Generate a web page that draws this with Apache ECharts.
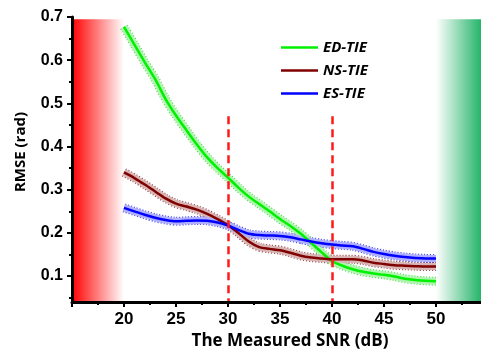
<!DOCTYPE html>
<html><head><meta charset="utf-8">
<script src="https://cdn.jsdelivr.net/npm/echarts@6/dist/echarts.min.js"></script>
<style>html,body{margin:0;padding:0;background:#fff}#c{width:481px;height:354px}</style>
</head><body><div id="c"></div>
<script>
const snr = [20,21,22,23,24,25,26,27,28,29,30,31,32,33,34,35,36,37,38,39,40,41,42,43,44,45,46,47,48,49,50];
const edTie = [0.677,0.636,0.595,0.556,0.510,0.472,0.438,0.405,0.375,0.350,0.328,0.305,0.284,0.267,0.250,0.232,0.216,0.198,0.177,0.155,0.135,0.124,0.116,0.110,0.106,0.103,0.099,0.094,0.091,0.089,0.088];
const nsTie = [0.340,0.327,0.312,0.296,0.280,0.268,0.261,0.254,0.244,0.232,0.218,0.200,0.180,0.167,0.163,0.160,0.154,0.147,0.143,0.141,0.139,0.139,0.139,0.136,0.131,0.128,0.125,0.124,0.123,0.122,0.122];
const esTie = [0.258,0.250,0.242,0.235,0.230,0.227,0.228,0.229,0.228,0.224,0.217,0.207,0.198,0.195,0.194,0.193,0.190,0.185,0.180,0.176,0.173,0.171,0.169,0.163,0.156,0.151,0.147,0.144,0.142,0.141,0.141];
const seriesNames = ['ED-TIE','NS-TIE','ES-TIE'];
const yTickValues = [0.1,0.2,0.3,0.4,0.5,0.6,0.7];
const yMinorValues = [0.05,0.15,0.25,0.35,0.45,0.55,0.65];
const xTickValues = [15,20,25,30,35,40,45,50];
const xMinorValues = [17.5,22.5,27.5,32.5,37.5,42.5,47.5,52.5];
const markedSnr = [30,40];
const markTop = 0.47;

const chart = echarts.init(document.getElementById('c'));
const pairs = v => snr.map((x,i)=>[x,v[i]]);
const styles = [
  {main:'#00f000', fill:'#aef5ae', edge:'#5ad85a'},
  {main:'#800000', fill:'#d8b4b4', edge:'#9a5050'},
  {main:'#0000ff', fill:'#b0b0ff', edge:'#5050ee'}
];
const valueSets = [edTie, nsTie, esTie];
const series = [];
series.push({
  type:'line', data:[], silent:true, z:-1,
  markArea:{silent:true, z:-1, itemStyle:{opacity:1}, data:[
    [{xAxis:15,yAxis:0.04,itemStyle:{color:new echarts.graphic.LinearGradient(0,0,1,0,[{offset:0,color:'#ff0000'},{offset:1,color:'#ffffff'}])}},{xAxis:20,yAxis:0.695}],
    [{xAxis:50,yAxis:0.04,itemStyle:{color:new echarts.graphic.LinearGradient(0,0,1,0,[{offset:0,color:'#ffffff'},{offset:1,color:'#25b46a'}])}},{xAxis:54.33,yAxis:0.695}]
  ]},
  markLine:{silent:true, symbol:'none', label:{show:false},
    lineStyle:{color:'#ff1a1a', width:2.5, type:[8,5]},
    data: markedSnr.map(x=>[{coord:[x,markTop]},{coord:[x,0.04]}])}
});
valueSets.forEach((v,i)=>{
  series.push({name:seriesNames[i]+' edge', type:'line', data:pairs(v), smooth:0.3, symbol:'none', silent:true, z:1,
    lineStyle:{color:styles[i].edge, width:9, type:[1.2,1.8]}});
});
valueSets.forEach((v,i)=>{
  series.push({name:seriesNames[i]+' band', type:'line', data:pairs(v), smooth:0.3, symbol:'none', silent:true, z:2,
    lineStyle:{color:styles[i].fill, width:7}});
});
valueSets.forEach((v,i)=>{
  series.push({name:seriesNames[i], type:'line', data:pairs(v), smooth:0.3, symbol:'none', z:3, color:styles[i].main,
    lineStyle:{color:styles[i].main, width:2.5}});
});

chart.setOption({
  animation:false,
  backgroundColor:'#fff',
  grid:{left:72, top:17, right:0, bottom:52},
  legend:{data:seriesNames, orient:'vertical', left:276, top:35, itemWidth:37, itemHeight:2.5, itemGap:8, icon:'rect',
    textStyle:{fontFamily:'Open Sans', fontStyle:'italic', fontWeight:'bold', fontSize:15, color:'#000', lineHeight:15, padding:[0,0,0,0]}},
  xAxis:[
    {type:'value', min:15, max:54.33, interval:5, z:10, axisLine:{show:true, onZero:false, lineStyle:{color:'#000', width:3}},
      axisTick:{show:true, customValues:xTickValues, length:5, inside:false, lineStyle:{color:'#000', width:2}},
      axisLabel:{customValues:xTickValues.filter(v=>v>=20), margin:9, fontFamily:'Liberation Sans', fontWeight:'bold', fontSize:17, color:'#000'},
      splitLine:{show:false}},
    {type:'value', min:15, max:54.33, position:'bottom', z:10, axisLine:{show:false},
      axisTick:{show:true, customValues:xMinorValues, length:3, lineStyle:{color:'#000', width:2}},
      axisLabel:{show:false}, splitLine:{show:false}}
  ],
  yAxis:[
    {type:'value', min:0.04, max:0.7, z:10, position:'left', offset:0, axisLine:{show:true, onZero:false, lineStyle:{color:'#000', width:3}},
      axisTick:{show:true, customValues:yTickValues, length:5, lineStyle:{color:'#000', width:2}},
      axisLabel:{customValues:yTickValues, formatter:v=>v.toFixed(1), margin:9, fontFamily:'Liberation Sans', fontWeight:'bold', fontSize:16, color:'#000'},
      splitLine:{show:false}},
    {type:'value', min:0.04, max:0.7, position:'left', offset:0, z:10, axisLine:{show:false},
      axisTick:{show:true, customValues:yMinorValues, length:3, lineStyle:{color:'#000', width:2}},
      axisLabel:{show:false}, splitLine:{show:false}}
  ],
  graphic:[
    {type:'text', x:290, y:341, style:{text:'The Measured SNR (dB)', fontFamily:'Open Sans', fontWeight:'bold', fontSize:17, fill:'#000', align:'center', verticalAlign:'middle'}},
    {type:'text', x:21, y:152, rotation:Math.PI/2, style:{text:'RMSE (rad)', fontFamily:'Open Sans', fontWeight:'bold', fontSize:15, fill:'#000', align:'center', verticalAlign:'middle'}}
  ],
  series
});
</script></body></html>
